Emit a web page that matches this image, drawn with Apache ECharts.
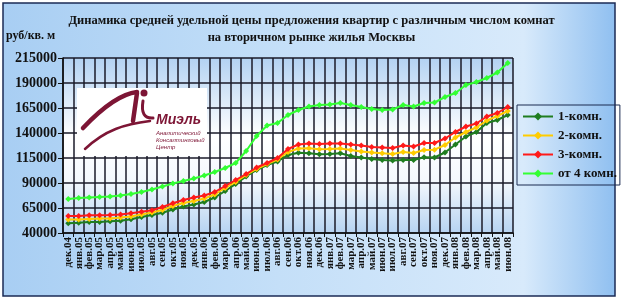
<!DOCTYPE html>
<html><head><meta charset="utf-8">
<script src="https://cdn.jsdelivr.net/npm/echarts@6/dist/echarts.min.js"></script>
<style>html,body{margin:0;padding:0;background:#fff}#c{width:623px;height:302px}</style>
</head><body><div id="c"></div>
<script>
const categories = ['дек.04','янв.05','фев.05','мар.05','апр.05','май.05','июн.05','июл.05','авг.05','сен.05','окт.05','ноя.05','дек.05',
  'янв.06','фев.06','мар.06','апр.06','май.06','июн.06','июл.06','авг.06','сен.06','окт.06','ноя.06','дек.06',
  'янв.07','фев.07','мар.07','апр.07','май.07','июн.07','июл.07','авг.07','сен.07','окт.07','ноя.07','дек.07',
  'янв.08','фев.08','мар.08','апр.08','май.08','июн.08'];
const room1 = [49700,50300,51000,51000,51700,52300,53700,56000,58000,60300,63500,66500,68500,
  71000,75500,82000,89000,96500,103000,108000,111500,118000,120300,119700,118700,
  119000,119700,117000,115500,114000,113000,112500,113000,113000,115700,115500,120500,
  128500,136500,141000,150000,153000,158000];
const room2 = [53500,53500,54000,54500,54500,55500,56500,58500,60500,63000,67000,70000,72000,
  74500,78500,85000,91000,98000,104000,109000,113500,121000,124500,124700,123700,
  124000,124500,123000,121500,120500,119700,119000,121000,120000,123000,123300,128000,
  135500,141000,145500,152500,157000,162000];
const room3 = [57000,57000,57700,57700,58000,58500,59700,61300,62800,66000,69800,73000,75500,
  77500,81000,87000,93000,99000,105500,110000,115000,124000,128500,129500,129000,
  129500,129500,128500,127500,126000,125500,125000,127500,126500,130000,130000,134500,
  141000,146500,149500,156500,160000,166000];
const room4 = [74000,75000,75500,76000,76500,77500,79000,81000,83500,86500,89500,92000,94500,
  97500,101000,105000,110000,122000,137000,147500,150000,158000,163000,166500,168000,
  168500,170000,168000,166000,164000,163000,163500,168000,166500,170000,170500,176000,
  180000,188000,191000,195000,200500,210000];
const seriesNames = ['1-комн.','2-комн.','3-комн.','от 4 комн.'];
const seriesColors = ['#1f7d1f','#ffcc00','#ff1a1a','#33ff33'];
const yMin = 40000, yMax = 215000, yStep = 25000;
const titleText = 'Динамика средней удельной цены предложения квартир с различным числом комнат\nна вторичном рынке жилья Москвы';
const unitText = 'руб/кв. м';

const serif = 'Liberation Serif';
const maroon = '#7d1535';
const chart = echarts.init(document.getElementById('c'), null, {renderer:'canvas'});
const data = [room1, room2, room3, room4];
chart.setOption({
  backgroundColor: '#ffffff',
  animation: false,
  title: {
    text: titleText, left: 'center', top: 7,
    textStyle: {fontFamily: serif, fontSize: 12.5, fontWeight: 'bold', color: '#111', lineHeight: 17}
  },
  legend: {
    orient: 'vertical', left: 517, top: 105,
    itemWidth: 30, itemHeight: 10, itemGap: 6,
    padding: [5, 3, 5, 5],
    borderColor: '#1a2a50', borderWidth: 1,
    textStyle: {fontFamily: serif, fontSize: 13, fontWeight: 'bold', color: '#111'},
    data: seriesNames
  },
  grid: {
    left: 63, right: 110, top: 58, bottom: 69, show: true, borderWidth: 0,
    backgroundColor: {type: 'linear', x: 0, y: 0, x2: 0, y2: 1, colorStops: [
      {offset: 0, color: '#b3d2f2'}, {offset: 0.45, color: '#ffffff'},
      {offset: 0.7, color: '#f4f8fd'}, {offset: 1, color: '#b6d3f2'}]}
  },
  xAxis: {
    type: 'category', data: categories, boundaryGap: true,
    axisLine: {lineStyle: {color: '#111', width: 1.5}},
    axisTick: {show: true, length: 4, lineStyle: {color: '#111'}},
    splitLine: {show: true, interval: 0, lineStyle: {color: '#1a1a28', width: 1.5}},
    axisLabel: {interval: 0, rotate: 90, margin: 4, fontFamily: serif, fontSize: 11, fontWeight: 'bold', color: '#111'}
  },
  yAxis: {
    type: 'value', min: yMin, max: yMax, interval: yStep,
    axisLine: {show: true, lineStyle: {color: '#111', width: 1.5}},
    axisTick: {show: true, length: 5, lineStyle: {color: '#111'}},
    splitLine: {show: true, lineStyle: {color: '#1a1a28', width: 1.5}},
    axisLabel: {margin: 6, fontFamily: serif, fontSize: 14, fontWeight: 'bold', color: '#111', formatter: v => String(v)}
  },
  series: seriesNames.map((n, i) => ({
    name: n, type: 'line', data: data[i], symbol: 'diamond', symbolSize: 6,
    itemStyle: {color: seriesColors[i]}, lineStyle: {color: seriesColors[i], width: 2}, z: 3 + i
  })),
  graphic: [
    {type: 'rect', z: -10, shape: {x: 3, y: 3, width: 612, height: 293},
      style: {fill: {type: 'linear', x: 0, y: 0, x2: 1, y2: 0, colorStops: [
        {offset: 0, color: '#a8cef3'}, {offset: 0.45, color: '#c4dff8'}, {offset: 0.85, color: '#d8eafb'}, {offset: 1, color: '#8fbff0'}]},
        stroke: '#1b2b55', lineWidth: 1.5}},
    {type: 'text', z: 10, left: 6, top: 30, style: {text: unitText, font: 'bold 12px ' + serif, fill: '#111'}},
    {type: 'rect', z: 10, shape: {x: 77, y: 88, width: 130, height: 68}, style: {fill: '#ffffff'}},
    {type: 'bezierCurve', z: 11, shape: {x1: 83, y1: 128, cpx1: 100, cpy1: 110, cpx2: 120, cpy2: 94, x2: 137, y2: 92},
      style: {stroke: maroon, lineWidth: 4.5, fill: null, lineCap: 'round'}},
    {type: 'line', z: 11, shape: {x1: 137, y1: 93, x2: 133, y2: 121}, style: {stroke: maroon, lineWidth: 4.5, lineCap: 'round'}},
    {type: 'bezierCurve', z: 11, shape: {x1: 85, y1: 149, cpx1: 105, cpy1: 130, cpx2: 125, cpy2: 124, x2: 150, y2: 121},
      style: {stroke: maroon, lineWidth: 2.5, fill: null, lineCap: 'round'}},
    {type: 'circle', z: 11, shape: {cx: 144, cy: 93, r: 3.5}, style: {fill: maroon}},
    {type: 'bezierCurve', z: 11, shape: {x1: 143, y1: 101, cpx1: 140, cpy1: 119, x2: 153, y2: 118},
      style: {stroke: maroon, lineWidth: 3, fill: null, lineCap: 'round'}},
    {type: 'text', z: 11, left: 156, top: 113, style: {text: 'Миэль', font: 'italic bold 14px Liberation Sans', fill: maroon}},
    {type: 'text', z: 11, left: 156, top: 130, style: {text: 'Аналитический', font: 'italic 6px Liberation Sans', fill: maroon}},
    {type: 'text', z: 11, left: 156, top: 137, style: {text: 'Консалтинговый', font: 'italic 6px Liberation Sans', fill: maroon}},
    {type: 'text', z: 11, left: 156, top: 144, style: {text: 'Центр', font: 'italic 6px Liberation Sans', fill: maroon}}
  ]
});
</script></body></html>
